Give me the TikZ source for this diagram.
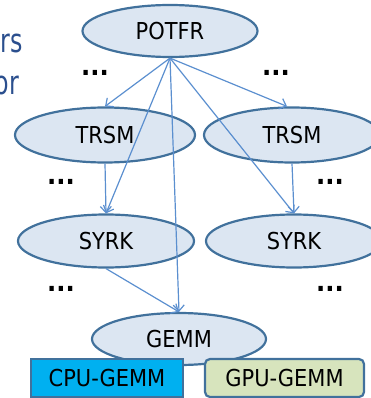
\documentclass[tikz,border=0pt]{standalone}
\usepackage{fontspec}
\setmainfont{DejaVu Sans}
\newfontfamily\labelfont[FakeStretch=0.9]{DejaVu Sans}
\usetikzlibrary{shapes.geometric,arrows.meta}
\definecolor{taskfill}{HTML}{DCE6F2}
\definecolor{taskline}{HTML}{41719C}
\definecolor{edgeblue}{HTML}{5B8FCF}
\definecolor{cpufill}{HTML}{00B0F0}
\definecolor{gpufill}{HTML}{D7E4BD}
\definecolor{slidetext}{HTML}{2B4F8E}
\tikzset{
  task/.style={ellipse, draw=taskline, fill=taskfill, line width=2.2pt,
    inner sep=0pt, font=\labelfont\fontsize{23.3}{26}\selectfont},
  dep/.style={draw=edgeblue, line width=1.2pt,
    -{Straight Barb[length=6pt,width=11pt]}},
  more/.style={font=\labelfont\fontsize{27}{30}\bfseries\selectfont, inner sep=0pt},
  kernel/.style={draw=taskline, line width=2.2pt, inner sep=0pt,
    font=\labelfont\fontsize{23.3}{26}\selectfont, minimum height=38pt},
  margintext/.style={text=slidetext, inner sep=0pt,
    font=\fontsize{33}{36}\selectfont}
}
\begin{document}
\begin{tikzpicture}[x=1pt,y=-1pt]
\useasboundingbox (0,0) rectangle (371,398);
\clip (0,0) rectangle (371,398);

% text of the slide running off the left edge
\node[margintext, anchor=base east] (txtA) at (23,53) {\scalebox{0.72}[1]{ers}};
\node[margintext, anchor=base east] (txtB) at (19,95) {\scalebox{0.72}[1]{or}};

% task graph
\node[task, minimum width=175pt, minimum height=52pt] (potfr) at (170,31) {POTFR};
\node[task, minimum width=180pt, minimum height=55pt] (trsmL) at (105,135) {TRSM};
\node[task, minimum width=176pt, minimum height=55pt] (trsmR) at (292,135) {TRSM};
\node[task, minimum width=176pt, minimum height=53pt] (syrkL) at (106,241) {SYRK};
\node[task, minimum width=176pt, minimum height=53pt] (syrkR) at (294,241) {SYRK};
\node[task, minimum width=174pt, minimum height=52pt] (gemm) at (179,339) {GEMM};

% elided parts of the graph
\node[more] (dA) at (95,73) {...};
\node[more] (dB) at (276,73) {...};
\node[more] (dC) at (61,182) {...};
\node[more] (dD) at (330,182) {...};
\node[more] (dE) at (61,289) {...};
\node[more] (dF) at (330,289) {...};

% dependencies
\draw[dep] (potfr.south) -- (trsmL.north);
\draw[dep] (potfr.south) -- ([xshift=-5pt]trsmR.north);
\draw[dep] (potfr.south) -- (syrkL.north);
\draw[dep] (potfr.south) -- (syrkR.north);
\draw[dep] (potfr.south) -- (gemm.north);
\draw[dep] (trsmL.south) -- (syrkL.north);
\draw[dep] (trsmR.south) -- (syrkR.north);
\draw[dep] (syrkL.south) -- (gemm.north);

% GEMM implementations
\node[kernel, fill=cpufill, minimum width=152pt] (cpu) at (107,378) {CPU-GEMM};
\node[kernel, fill=gpufill, rounded corners=5pt, minimum width=159pt] (gpu) at (284.5,378) {GPU-GEMM};
\end{tikzpicture}
\end{document}
